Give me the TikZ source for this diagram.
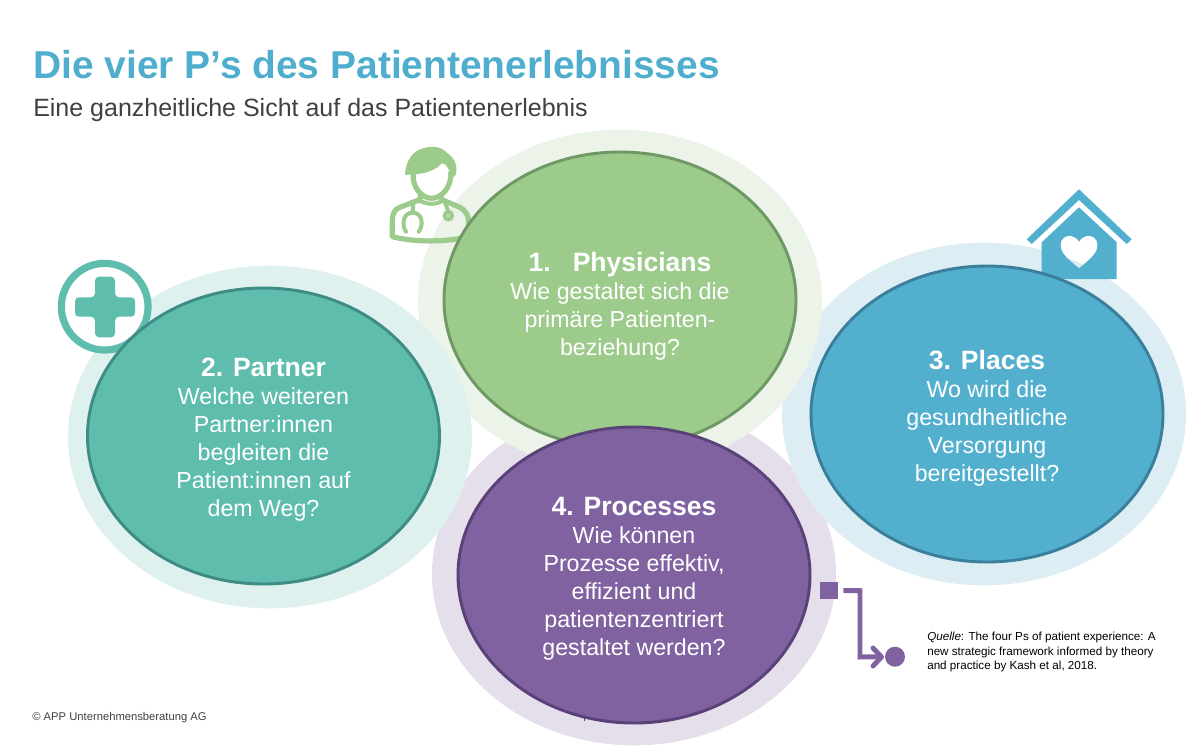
\documentclass[tikz,border=0pt]{standalone}
\usepackage{fontspec}
\setmainfont{Liberation Sans}
\usetikzlibrary{shapes.geometric,arrows.meta}
\definecolor{cgreen}{HTML}{9DCB8B}\definecolor{bgreen}{HTML}{6F9865}\definecolor{hgreen}{HTML}{ECF4E9}
\definecolor{cteal}{HTML}{5FBDAE}\definecolor{bteal}{HTML}{3F8B85}\definecolor{hteal}{HTML}{DFF1EE}
\definecolor{cblue}{HTML}{53AFCE}\definecolor{bblue}{HTML}{3A7F9C}\definecolor{hblue}{HTML}{DDEDF4}
\definecolor{cpurple}{HTML}{8062A0}\definecolor{bpurple}{HTML}{5A4278}\definecolor{hpurple}{HTML}{E5DFEC}
\definecolor{ctitle}{HTML}{4FAECD}\definecolor{csub}{HTML}{404040}
\tikzset{
 halo/.style={ellipse,inner sep=0pt,minimum width=303pt,minimum height=257pt,fill=#1},
 core/.style={ellipse,inner sep=0pt,minimum width=264pt,minimum height=222pt,line width=2.2pt,draw=b#1,fill=c#1},
 bodytext/.style={text=white,align=center,font=\fontsize{17.4}{21}\selectfont,anchor=north},
 smalltext/.style={text=black,align=left,font=\fontsize{8.75}{10.9}\selectfont,anchor=north west},
 iconline/.style={draw=cgreen,line width=3.9pt,line join=round,line cap=round}
}
\newcommand{\hd}[1]{{\fontsize{19.9}{21}\selectfont\bfseries #1}}
\begin{document}
\begin{tikzpicture}[x=0.75pt,y=-0.75pt]
\useasboundingbox (0,0) rectangle (1200,750);
% halos
\node[halo=hpurple] (hp) at (634,574) {};
\node[halo=hblue] (hb) at (984,414) {};
\node[halo=hgreen] (hg) at (620,301) {};
\node[halo=hteal] (ht) at (270,437) {};
% doctor icon
\begin{scope}[shift={(380,130)},x=0.25pt,y=-0.25pt]
\fill[cgreen] (75,135) .. controls (76,105) and (88,72) .. (120,58) .. controls (150,46) and (185,48) .. (200,68) .. controls (222,82) and (234,105) .. (228,134) -- (214,148) .. controls (210,118) and (197,98) .. (185,100) .. controls (170,120) and (130,134) .. (100,132) -- cycle;
\draw[iconline] (100,130) .. controls (95,170) and (125,205) .. (155,205) .. controls (185,205) and (215,170) .. (212,130);
\draw[iconline] (122,195) .. controls (122,210) and (118,210) .. (108,213) -- (60,232) .. controls (40,240) and (37,255) .. (37,275) -- (37,320) .. controls (100,337) and (200,337) .. (266,320) -- (266,275) .. controls (266,255) and (255,240) .. (240,232) -- (195,213) .. controls (185,210) and (182,205) .. (182,195);
\draw[iconline,line width=3pt] (122,214) .. controls (150,224) and (165,224) .. (185,214);
\draw[iconline,line width=3pt] (100,222) -- (98,248);
\draw[iconline,line width=3pt] (78,305) .. controls (66,290) and (66,248) .. (98,248) .. controls (130,248) and (130,290) .. (116,305);
\draw[iconline,line width=3pt] (196,220) -- (205,245);
\draw[cgreen,line width=3pt,fill=white] (205,257) circle[radius=11];
\fill[cgreen] (205,257) circle[radius=3];
\end{scope}
% house icon
\fill[cblue] (1079,189.3) -- (1026.7,239.3) -- (1031.7,244) -- (1079,200) -- (1126.7,244) -- (1131.7,239.3) -- cycle;
\fill[cblue,even odd rule] (1079,207.3) -- (1116.7,242.3) -- (1116.7,279) -- (1041.7,279) -- (1041.7,242.3) -- cycle
 (1079,241.7) .. controls (1075,235) and (1068,234.5) .. (1064,237.5) .. controls (1059,241) and (1060,249) .. (1063,253) .. controls (1067,259) and (1074,264) .. (1079,268.3) .. controls (1084,264) and (1091,259) .. (1095,253) .. controls (1098,249) and (1099,241) .. (1094,237.5) .. controls (1090,234.5) and (1083,235) .. (1079,241.7) -- cycle;
% plus icon
\node[circle,draw=cteal,line width=5.4pt,fill=white,inner sep=0pt,minimum size=65pt] (ring) at (104.7,306.7) {};
\fill[cteal,rounded corners=3pt] (75,297.3) -- (95,297.3) -- (95,276.7) -- (115,276.7) -- (115,297.3) -- (135,297.3) -- (135,316.7) -- (115,316.7) -- (115,337.3) -- (95,337.3) -- (95,316.7) -- (75,316.7) -- cycle;
% core ellipses
\node[core=green] (g) at (620,300) {};
\node[core=teal] (t) at (263.5,436) {};
\node[core=blue] (b) at (987,414) {};
\node[core=purple] (p) at (634,575) {};
\draw[bpurple,line width=0.75pt] (584.3,718) -- (584.3,721);
% titles
\node[anchor=base west,inner sep=0pt,text=ctitle,font=\fontsize{29.2}{30}\selectfont\bfseries] (title) at (33,78) {Die vier P’s des Patientenerlebnisses};
\node[anchor=base west,inner sep=0pt,text=csub,font=\fontsize{18.75}{20}\selectfont] (sub) at (33,116) {Eine ganzheitliche Sicht auf das Patientenerlebnis};
% texts
\node[bodytext] (tg) at (620,247.5) {\hd{1.\ \ \ Physicians}\\Wie gestaltet sich die\\primäre Patienten-\\beziehung?};
\node[bodytext] (tt) at (263.5,353) {\hd{2. Partner}\\Welche weiteren\\Partner:innen\\begleiten die\\Patient:innen auf\\dem Weg?};
\node[bodytext] (tb) at (987,346) {\hd{3. Places}\\Wo wird die\\gesundheitliche\\Versorgung\\bereitgestellt?};
\node[bodytext] (tp) at (634,493) {\hd{4. Processes}\\Wie können\\Prozesse effektiv,\\effizient und\\patientenzentriert\\gestaltet werden?};
% connector
\node[rectangle,fill=cpurple,inner sep=0pt,minimum size=13.2pt] (sq) at (829,590.5) {};
\node[circle,fill=cpurple,inner sep=0pt,minimum size=15pt] (dot) at (895,656.7) {};
\coordinate (k1) at (860,590.7);
\coordinate (k2) at (860,657);
\draw[cpurple,line width=3.7pt,line join=miter] ([xshift=4pt]sq.east) -- (k1) -- (k2) -- ([xshift=-3pt]dot.west);
\draw[cpurple,line width=3.7pt,line cap=round,line join=round] (873,648) -- (881.5,657) -- (873,666);
% notes
\node[smalltext,inner sep=0pt] (src) at (927,632) {\textit{Quelle}: The four Ps of patient experience: A\\new strategic framework informed by theory\\and practice by Kash et al, 2018.};
\node[anchor=base west,inner sep=0pt,text=csub,font=\fontsize{8.43}{10}\selectfont] (copy) at (32,720) {© APP Unternehmensberatung AG};
\end{tikzpicture}
\end{document}
